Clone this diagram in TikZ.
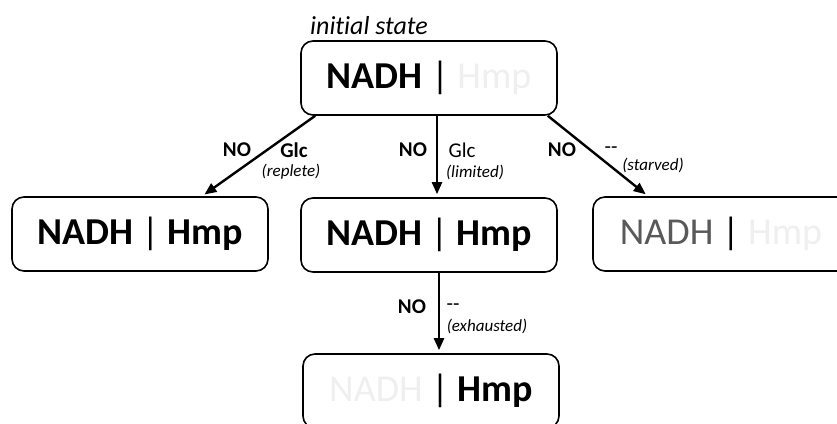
\documentclass[tikz,border=0pt]{standalone}
\usepackage{fontspec}
\setmainfont{Carlito}[Ligatures={TeX,NoCommon}]
\usetikzlibrary{positioning,arrows.meta}

\definecolor{faded}{HTML}{EFEFEF}
\definecolor{dimmed}{HTML}{595959}

\begin{document}
\begin{tikzpicture}[
  x=1pt, y=-1pt,
  state/.style={draw, line width=1.6pt, rounded corners=12pt, minimum width=256pt,
    minimum height=74pt, inner sep=0pt, font=\fontsize{38}{40}\selectfont},
  cond/.style={inner sep=0pt, font=\fontsize{21}{23}\selectfont},
  note/.style={inner sep=0pt, font=\fontsize{17}{19}\selectfont\itshape},
  flow/.style={line width=2.4pt, -{Triangle[length=12pt,width=10pt]}, shorten >=3pt}
]
\useasboundingbox (0,0) rectangle (837,423);
\clip (0,0) rectangle (837,423);

% states
\node[state] (init) at (429,78) {\textbf{NADH} | {\color{faded}Hmp}};
\node[state] (replete) at (140,234) {\textbf{NADH} | \textbf{Hmp}};
\node[state] (limited) at (429,235) {\textbf{NADH} | \textbf{Hmp}};
\node[state] (starved) at (721,234) {{\color{dimmed}NADH} | {\color{faded}Hmp}};
\node[state] (exhausted) at (431,391) {{\color{faded}NADH} | \textbf{Hmp}};

\node[inner sep=0pt, font=\fontsize{26}{28}\selectfont\itshape] (title) at (369,26) {initial state};

% transitions
\draw[flow] ([xshift=15pt]init.south west) -- ([xshift=62pt]replete.north);
\draw[flow] ([xshift=8pt]init.south) -- ([xshift=8pt]limited.north);
\draw[flow] ([xshift=-10pt]init.south east) -- ([xshift=-73pt]starved.north);
\draw[flow] ([xshift=10pt]limited.south) -- ([xshift=8pt]exhausted.north);

% labels
\node[cond] (no1) at (237,150) {\textbf{NO}};
\node[cond] (glc1) at (294,150) {\textbf{Glc}};
\node[note] (rep) at (291,172) {(replete)};

\node[cond] (no2) at (413,150) {\textbf{NO}};
\node[cond] (glc2) at (462,150) {Glc};
\node[note] (lim) at (475,172) {(limited)};

\node[cond] (no3) at (562,150) {\textbf{NO}};
\node[cond] (none3) at (611,150) {-{}-};
\node[note] (sta) at (653,165) {(starved)};

\node[cond] (no4) at (412,307) {\textbf{NO}};
\node[cond] (none4) at (453,307) {-{}-};
\node[note] (exh) at (487,326) {(exhausted)};
\end{tikzpicture}
\end{document}
